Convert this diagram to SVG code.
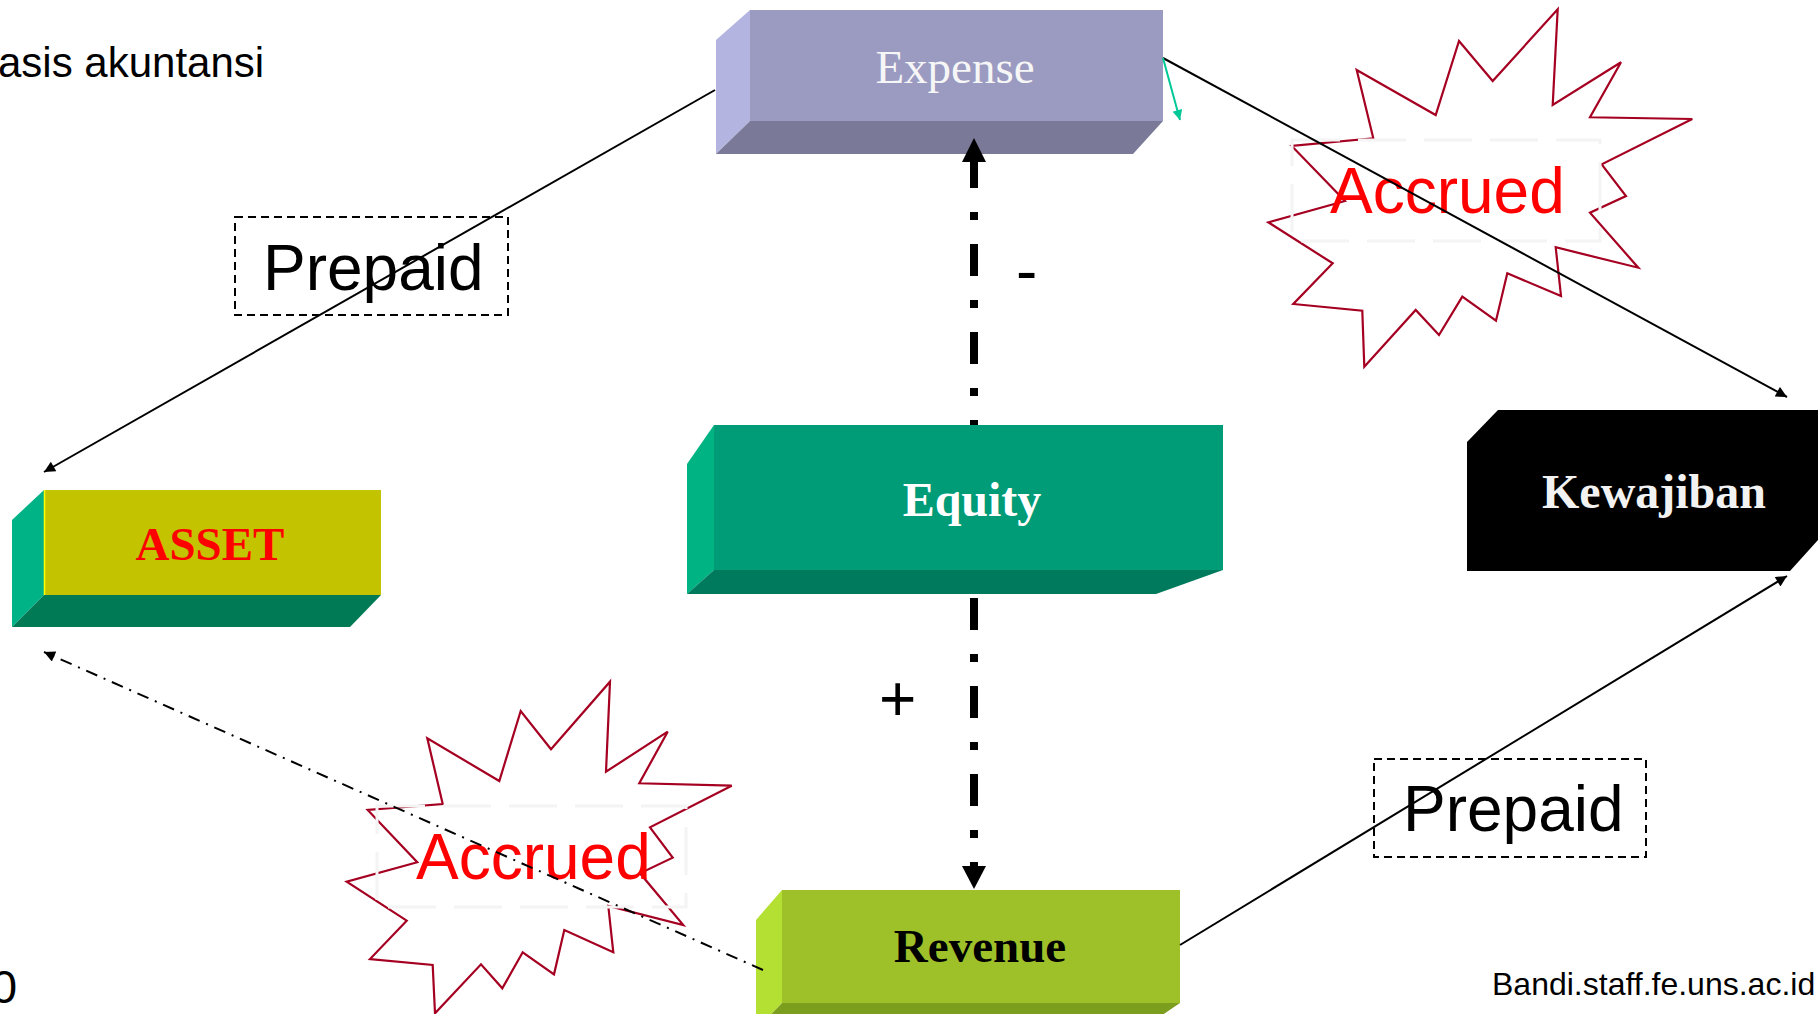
<svg xmlns="http://www.w3.org/2000/svg" width="1818" height="1014" viewBox="0 0 1818 1014">
<defs>
<style>
.lbl{font-family:"Liberation Serif","Times New Roman",serif;text-anchor:middle}
.sans{font-family:"Liberation Sans",Arial,sans-serif}
.thin{stroke:#000;stroke-width:2;fill:none}
.star{fill:#fff;stroke:#a50021;stroke-width:2.2;stroke-linejoin:miter}
.faint{fill:none;stroke:#f4f4f4;stroke-width:3;stroke-dasharray:48 18}
.tbox{fill:none;stroke:#000;stroke-width:2;stroke-dasharray:8 5}
.acc{font-family:"Liberation Sans",Arial,sans-serif;font-size:64px;fill:#ff0000}
.big{stroke:#000;stroke-width:8;fill:none;stroke-dasharray:32 24 8 24}
</style>
<marker id="ahs" viewBox="0 0 10 10" refX="10" refY="5" markerWidth="13" markerHeight="11" orient="auto" markerUnits="userSpaceOnUse">
<path d="M0,0 L10,5 L0,10 z" fill="#000"/>
</marker>
<marker id="ahg" viewBox="0 0 10 10" refX="10" refY="5" markerWidth="12" markerHeight="10" orient="auto" markerUnits="userSpaceOnUse">
<path d="M0,0 L10,5 L0,10 z" fill="#00c896"/>
</marker>
</defs>
<rect width="1818" height="1014" fill="#fff"/>

<text class="sans" x="-2" y="77" font-size="42">asis akuntansi</text>
<text class="sans" x="-9" y="1003" font-size="47">0</text>
<text class="sans" x="1492" y="995" font-size="32">Bandi.staff.fe.uns.ac.id</text>

<g id="expense">
<polygon points="750,10 1163,10 1163,121 750,121" fill="#9b9bc2"/>
<polygon points="750,10 716,40 716,154 750,121" fill="#b4b4e0"/>
<polygon points="750,121 1163,121 1133,154 716,154" fill="#7a7a98"/>
<text class="lbl" x="955" y="83" font-size="47" fill="#f6f6f6">Expense</text>
</g>

<g id="asset">
<polygon points="44,490 381,490 381,595 44,595" fill="#c3c300"/>
<polygon points="44,490 12,520 12,627 44,595" fill="#00b386"/>
<polygon points="44,595 381,595 350,627 12,627" fill="#007a55"/>
<line x1="44.5" y1="490" x2="44.5" y2="595" stroke="#ffff00" stroke-width="1.5"/>
<text class="lbl" x="210" y="560" font-size="47" font-weight="bold" fill="#ff0000">ASSET</text>
</g>

<g id="equity">
<polygon points="714,425 1223,425 1223,570 714,570" fill="#009b77"/>
<polygon points="714,425 687,464 687,594 714,570" fill="#00b383"/>
<polygon points="714,570 1223,570 1156,594 687,594" fill="#007a5c"/>
<text class="lbl" x="972" y="516" font-size="48" font-weight="bold" fill="#ffffff">Equity</text>
</g>

<g id="kewajiban">
<polygon points="1467,442 1498,410 1818,410 1818,540 1790,571 1467,571" fill="#000"/>
<text class="lbl" x="1654" y="508" font-size="48" font-weight="bold" fill="#f2f2f2">Kewajiban</text>
</g>

<g id="revenue">
<polygon points="782,890 1180,890 1180,1003 782,1003" fill="#9ec12a"/>
<polygon points="782,890 756,920 756,1030 782,1003" fill="#b4e034"/>
<polygon points="782,1003 1180,1003 1155,1020 756,1030" fill="#7c9e1f"/>
<text class="lbl" x="980" y="962" font-size="47" font-weight="bold" fill="#000">Revenue</text>
</g>

<g id="prepaid-top">
<rect class="tbox" x="235" y="217" width="273" height="98"/>
<text class="sans" x="263" y="290" font-size="64">Prepaid</text>
</g>

<g id="prepaid-bottom">
<rect class="tbox" x="1374" y="759" width="272" height="98"/>
<text class="sans" x="1403" y="831" font-size="64">Prepaid</text>
</g>

<g id="accrued-top">
<polygon class="star" points="1557.7,9.3 1552.7,105 1621,62.3 1590,117.3 1692.3,119 1601.7,164.3 1626,196 1590,212.7 1638.3,267.7 1555.7,247.3 1561,296 1507.3,273.3 1496,320.7 1462.3,296.7 1439,335 1415.7,310 1364.3,366.7 1362.3,310.7 1293.3,304 1332.7,263.3 1268.3,222.3 1345,201 1291.7,146 1373.3,138.3 1356.7,70 1435.7,115 1459,41 1492.7,81"/>
<rect class="faint" x="1292" y="140" width="308" height="101"/>
<text class="acc" x="1330" y="213">Accrued</text>
</g>

<g id="accrued-bottom">
<polygon class="star" points="610,681.7 606,771.7 667.7,731.7 639.3,783.3 731.7,785.7 650,827.3 672.7,857.7 640,873.3 683.3,925 608.3,906 613.3,952.3 564.3,930 554,974.3 522.7,952.3 502.3,988.3 481,964.3 435,1013.3 432.7,965 370,959 406.7,920.7 346.7,881.7 417.3,862.3 367.7,810 442.7,804 427.3,738.3 499.3,781 520.7,711 551,749.3"/>
<rect class="faint" x="377" y="806" width="309" height="101"/>
<text class="acc" x="416" y="879">Accrued</text>
</g>

<g id="signs">
<text class="sans" x="1016" y="293" font-size="64">-</text>
<text class="sans" x="879" y="721" font-size="64">+</text>
</g>

<g id="connectors">
<line class="thin" x1="715" y1="90" x2="44" y2="472" marker-end="url(#ahs)"/>
<line class="thin" x1="1163" y1="58" x2="1787" y2="397" marker-end="url(#ahs)"/>
<line class="thin" x1="1180" y1="945" x2="1787" y2="576" marker-end="url(#ahs)"/>
<line class="thin" x1="763" y1="970" x2="44" y2="652" stroke-dasharray="12 7 2 7" marker-end="url(#ahs)"/>
<line x1="1163" y1="58" x2="1180" y2="120" stroke="#00c896" stroke-width="2" marker-end="url(#ahg)"/>
<line class="big" x1="974" y1="425" x2="974" y2="158" stroke-dashoffset="27"/>
<polygon points="962,162 986,162 974,138" fill="#000"/>
<line class="big" x1="974" y1="598" x2="974" y2="868"/>
<polygon points="962,866 986,866 974,889" fill="#000"/>
</g>
</svg>
